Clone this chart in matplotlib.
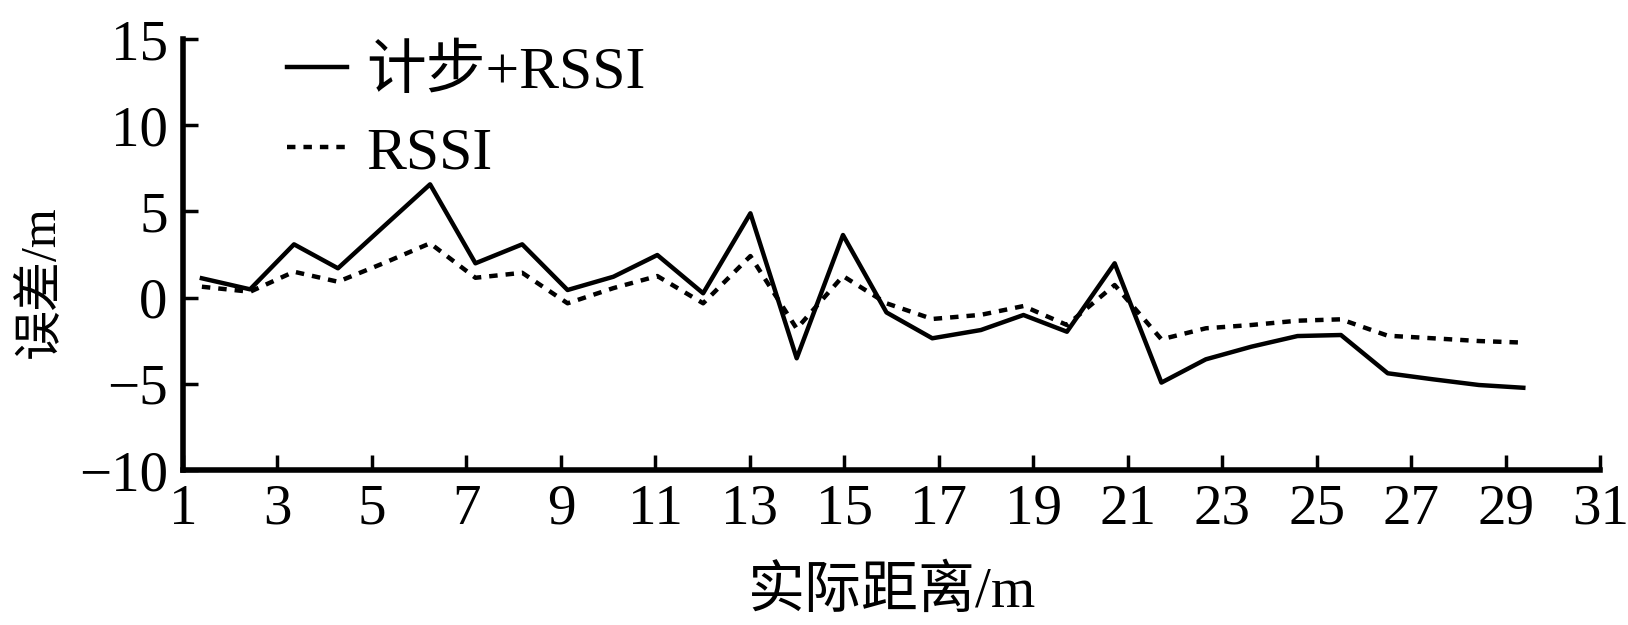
import matplotlib
matplotlib.use("Agg")
import matplotlib.pyplot as plt

plt.rcParams['font.family'] = ['Liberation Serif', 'Noto Sans CJK SC', 'DejaVu Sans']
plt.rcParams['axes.unicode_minus'] = True

# 实际距离 (m)
dist = [1.40, 2.42, 3.35, 4.28, 5.25, 6.23, 7.19, 8.18, 9.14, 10.11,
        11.04, 12.01, 13.01, 13.99, 14.97, 15.89, 16.86, 17.89, 18.79, 19.71,
        20.72, 21.71, 22.65, 23.61, 24.59, 25.51, 26.50, 27.46, 28.43, 29.37]
# 误差 计步+RSSI
err_step = [1.12, 0.48, 3.09, 1.70, 4.13, 6.57, 1.99, 3.09, 0.44, 1.21,
            2.47, 0.25, 4.89, -3.52, 3.63, -0.86, -2.36, -1.88, -1.01, -1.98,
            1.99, -4.93, -3.58, -2.85, -2.23, -2.17, -4.39, -4.74, -5.07, -5.23]
# 误差 RSSI
err_rssi = [0.63, 0.34, 1.50, 0.92, 2.00, 3.15, 1.15, 1.44, -0.33, 0.55,
            1.25, -0.33, 2.41, -1.80, 1.25, -0.33, -1.24, -1.00, -0.49, -1.59,
            0.73, -2.42, -1.78, -1.59, -1.34, -1.26, -2.21, -2.36, -2.52, -2.61]

xticks = list(range(1, 32, 2))
yticks = [-10, -5, 0, 5, 10, 15]

fig = plt.figure(figsize=(16.28, 6.25), dpi=100)
ax = fig.add_axes([0.1124, 0.248, 0.8706, 0.6896])

ax.plot(dist, err_step, color='black', lw=3.2, label='计步+RSSI')
ax.plot(dist, err_rssi, color='black', lw=3.2, linestyle=(0, (1.9, 1.8)), label='RSSI')

ax.set_xlim(1, 31)
ax.set_ylim(-10, 15)
ax.set_xticks(xticks)
ax.set_yticks(yticks)

for s in ['top', 'right']:
    ax.spines[s].set_visible(False)
for s in ['left', 'bottom']:
    ax.spines[s].set_linewidth(4)

ax.tick_params(direction='in', length=11, width=2.5, labelsize=41)
ax.tick_params(axis='x', pad=10)
ax.tick_params(axis='y', pad=11)

ax.set_xlabel('实际距离/m', fontsize=41, va='center')
ax.xaxis.set_label_coords(0.5, -0.283)
ax.set_ylabel('误差/m', fontsize=36, va='center', ha='center')
ax.yaxis.set_label_coords(-0.1, 0.437)

leg = ax.legend(loc='upper left', bbox_to_anchor=(287 / 1628, 1 - 46 / 625),
                bbox_transform=fig.transFigure, frameon=False, borderpad=0,
                borderaxespad=0, fontsize=43, handlelength=1.0,
                handletextpad=0.32, labelspacing=0.42)

plt.savefig('out.png', dpi=100)
